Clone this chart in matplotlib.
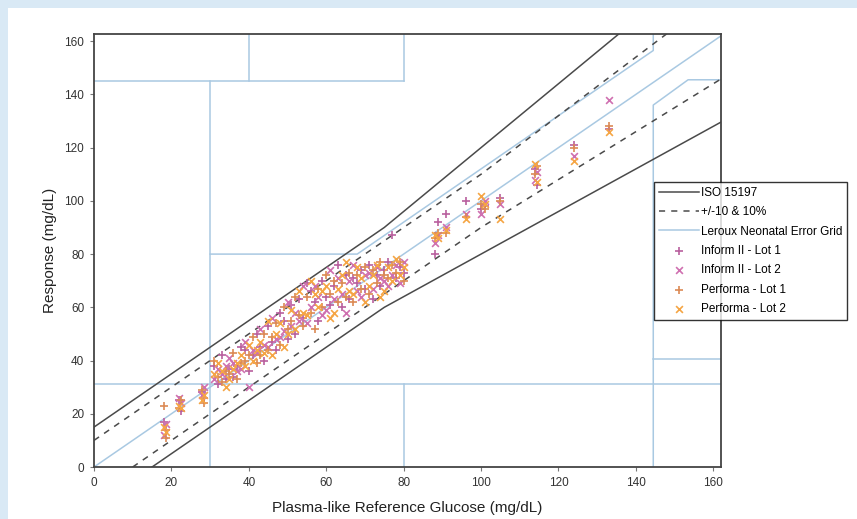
import matplotlib
matplotlib.use("Agg")
import matplotlib.pyplot as plt
from matplotlib.patches import Rectangle

plt.rcParams['font.family'] = ['Liberation Sans', 'DejaVu Sans']

# reference glucose (mg/dL) for each sample, and the four meter readings
ref = [18.0, 18.5, 22, 22.5, 28, 28.5, 31, 32, 33, 34, 35, 36, 37, 38, 39, 40,
       41, 42, 43, 44, 45, 46, 47, 48, 49, 50, 51, 52, 53, 54, 55, 56, 57, 58,
       59, 60, 61, 62, 63, 64, 65, 66, 67, 68, 69, 70, 71, 72, 73, 74, 75, 76,
       77, 78, 79, 80, 88, 89, 91, 96, 100, 101, 105, 114, 114.5, 124, 133]
inform1 = [17, 14, 25, 21, 28, 26, 38, 31, 42, 33, 37, 34, 38, 45, 44, 36,
           42, 50, 45, 40, 53, 47, 44, 58, 55, 48, 61, 50, 63, 56, 69, 66, 62, 55,
           70, 64, 61, 68, 76, 60, 72, 63, 71, 69, 74, 67, 76, 63, 72, 68, 74, 77,
           87, 71, 75, 73, 80, 92, 95, 100, 97, 98, 101, 112, 106, 121, 127]
inform2 = [12, 16, 26, 24, 27, 30, 33, 37, 35, 38, 41, 39, 36, 37, 47, 30,
           44, 43, 52, 46, 45, 56, 48, 49, 51, 62, 53, 58, 55, 68, 54, 60, 68, 64,
           57, 59, 74, 63, 71, 65, 58, 70, 76, 66, 64, 72, 73, 67, 75, 71, 70, 68,
           72, 76, 69, 77, 84, 87, 90, 95, 95, 100, 99, 108, 111, 117, 138]
perf1 = [23, 11, 22, 25, 29, 24, 40, 34, 32, 36, 35, 43, 33, 39, 40, 42,
         49, 39, 42, 50, 44, 49, 54, 46, 60, 52, 55, 64, 57, 53, 64, 58, 52, 67,
         60, 72, 65, 70, 62, 69, 64, 73, 62, 72, 67, 75, 65, 74, 69, 77, 72, 71,
         76, 73, 77, 70, 86, 88, 88, 94, 99, 97, 100, 110, 113, 120, 128]
perf2 = [15, 13, 23, 22, 25, 27, 35, 39, 36, 30, 33, 37, 39, 42, 38, 46,
         40, 44, 47, 43, 55, 42, 50, 54, 45, 50, 59, 52, 66, 58, 57, 70, 65, 60,
         66, 68, 56, 58, 67, 72, 77, 66, 65, 75, 71, 62, 68, 72, 76, 64, 66, 75,
         70, 78, 72, 75, 87, 86, 89, 93, 102, 99, 93, 114, 107, 115, 126]

# limit lines (x, y vertices)
iso_up_x, iso_up_y = [0, 75, 140], [15, 90, 168]
iso_lo_x, iso_lo_y = [15, 75, 165], [0, 60, 132]
pm10_up_x, pm10_up_y = [0, 100, 150], [10, 110, 165]
pm10_lo_x, pm10_lo_y = [10, 100, 165], [0, 90, 148.5]

# Leroux neonatal error grid segments
leroux = [
    ([0, 165], [0, 165]),
    ([30, 30], [0, 145]),
    ([0, 80], [145, 145]),
    ([40, 40], [145, 170]),
    ([80, 80], [145, 170]),
    ([0, 165], [31, 31]),
    ([80, 80], [0, 31]),
    ([30, 68, 144.5, 144.5], [80, 80, 156.5, 170]),
    ([144.5, 144.5, 153.5, 165], [0, 136, 145.5, 145.5]),
    ([144.5, 165], [40.5, 40.5]),
]

fig = plt.figure(figsize=(8.57, 5.19), dpi=100)
fig.patch.set_facecolor('#d9e9f5')
fig.add_artist(Rectangle((8 / 857, 0), 1, 1 - 8 / 519, transform=fig.transFigure,
                         facecolor='white', edgecolor='none', zorder=0))

ax = fig.add_axes([94 / 857, 52 / 519, 627 / 857, 433 / 519])
ax.set_xlim(0, 162)
ax.set_ylim(0, 162.7)

lc = '#4a4a4a'
blue = '#a9c9e2'
first = True
for sx, sy in leroux:
    ax.plot(sx, sy, color=blue, lw=1.1, zorder=1,
            label='Leroux Neonatal Error Grid' if first else None)
    first = False

ax.plot(iso_up_x, iso_up_y, color=lc, lw=1.1, zorder=2, label='ISO 15197')
ax.plot(iso_lo_x, iso_lo_y, color=lc, lw=1.1, zorder=2)
ax.plot(pm10_up_x, pm10_up_y, color=lc, lw=1.1, ls=(0, (4, 4)), zorder=2,
        label='+/-10 & 10%')
ax.plot(pm10_lo_x, pm10_lo_y, color=lc, lw=1.1, ls=(0, (4, 4)), zorder=2)

ax.scatter(ref, inform1, marker='+', s=32, lw=1.2, color='#b9609e', zorder=3,
           label='Inform II - Lot 1')
ax.scatter(ref, inform2, marker='x', s=24, lw=1.2, color='#cf70b0', zorder=3,
           label='Inform II - Lot 2')
ax.scatter(ref, perf1, marker='+', s=32, lw=1.2, color='#dc8a55', zorder=4,
           label='Performa - Lot 1')
ax.scatter(ref, perf2, marker='x', s=24, lw=1.2, color='#f5a544', zorder=4,
           label='Performa - Lot 2')

ax.set_xticks(range(0, 161, 20))
ax.set_yticks(range(0, 161, 20))
ax.tick_params(direction='out', length=3, width=0.8, color='#777777',
               labelsize=8.5, labelcolor='#333333', pad=4)
for s in ax.spines.values():
    s.set_color('#444444')
    s.set_linewidth(1.3)

ax.set_xlabel('Plasma-like Reference Glucose (mg/dL)', fontsize=11,
              color='#222222', labelpad=9)
ax.set_ylabel('Response (mg/dL)', fontsize=11, color='#222222', labelpad=5)

h, l = ax.get_legend_handles_labels()
order = ['ISO 15197', '+/-10 & 10%', 'Leroux Neonatal Error Grid',
         'Inform II - Lot 1', 'Inform II - Lot 2', 'Performa - Lot 1',
         'Performa - Lot 2']
hd = dict(zip(l, h))
leg = fig.legend([hd[k] for k in order], order, loc='upper left',
                 bbox_to_anchor=(654 / 857, 1 - 182 / 519), fontsize=8.5,
                 frameon=True, fancybox=False, edgecolor='black',
                 handlelength=3.4, handletextpad=0.15, labelspacing=0.63,
                 borderpad=0.4, borderaxespad=0)
leg.get_frame().set_linewidth(1.0)

fig.savefig('out.png', dpi=100)
